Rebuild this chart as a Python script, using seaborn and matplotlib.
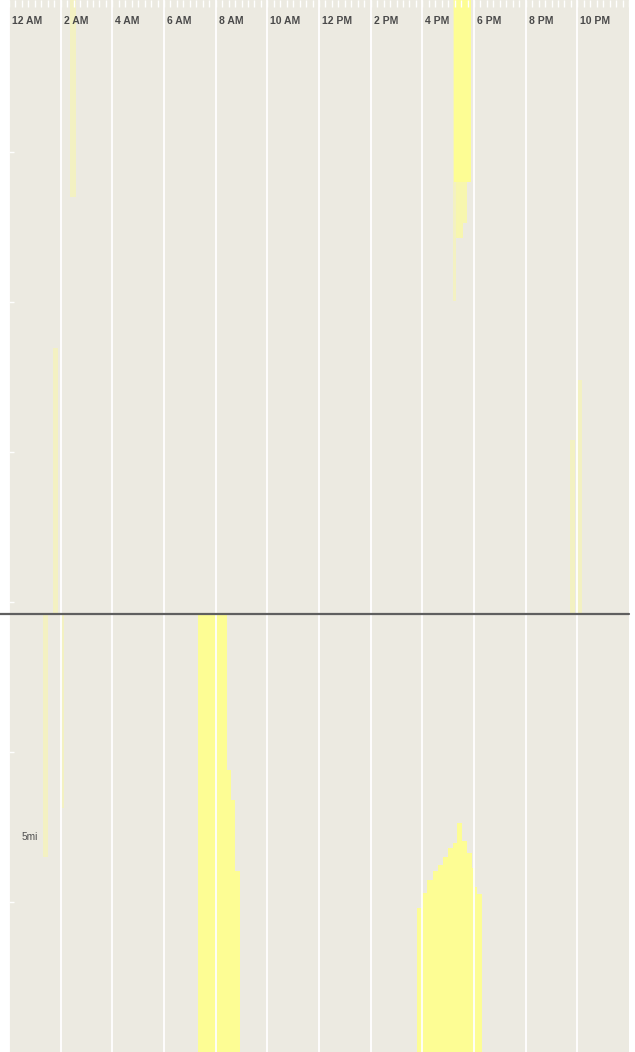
import numpy as np
import pandas as pd
import matplotlib
matplotlib.use("Agg")
import matplotlib.pyplot as plt
import matplotlib.transforms as mtransforms
import seaborn as sns

# hours of the day (x) and distance scale (y, one unit per tick)
hour_labels = ["12 AM", "2 AM", "4 AM", "6 AM", "8 AM", "10 AM",
               "12 PM", "2 PM", "4 PM", "6 PM", "8 PM", "10 PM"]
label_hours = list(range(0, 24, 2))
divider_level = 2.92

# floating trips: start/end hour, low/high distance, number of days overlapping
trip_start = [2.36, 1.70, 17.18, 17.22, 17.29, 17.56, 21.70, 21.97, 1.32, 2.01]
trip_end = [2.59, 1.90, 17.29, 17.87, 17.56, 17.72, 21.90, 22.17, 1.51, 2.13]
trip_low = [5.70, 2.92, 5.01, 5.80, 5.43, 5.53, 2.92, 2.92, 1.30, 1.63]
trip_high = [7.20, 4.69, 7.20, 7.20, 5.80, 5.80, 4.08, 4.48, 2.92, 2.92]
trip_days = [1, 1, 1, 6, 2, 2, 1, 1, 1, 1]

# morning commute block (from ground up)
morning_edges = [7.31, 8.43, 8.59, 8.74, 8.94]
morning_miles = [2.92, 1.88, 1.68, 1.21]

# evening commute bump (from ground up)
evening_edges = [15.78, 15.98, 16.17, 16.40, 16.60, 16.79, 16.98, 17.18,
                 17.33, 17.52, 17.72, 17.91, 18.03, 18.10, 18.30]
evening_miles = [0.96, 1.06, 1.15, 1.21, 1.25, 1.30, 1.36, 1.39,
                 1.53, 1.41, 1.33, 1.23, 1.10, 1.05]

BG = "#ECEAE1"
YELLOW = "#FFFF90"
LAYER_ALPHA = 0.38

sns.set_theme(style="white")
plt.rcParams["font.family"] = ["Liberation Sans", "DejaVu Sans"]

fig = plt.figure(figsize=(6.35, 10.52), dpi=100)
ax = fig.add_axes([9 / 635, 0, 620 / 635, 1])
ax.set_facecolor(BG)

trips = pd.DataFrame({"start": trip_start, "end": trip_end, "low": trip_low,
                      "high": trip_high, "days": trip_days})
for _, t in trips.iterrows():
    ax.bar(t["start"], t["high"] - t["low"], width=t["end"] - t["start"],
           bottom=t["low"], align="edge", color=YELLOW, linewidth=0,
           alpha=1 - (1 - LAYER_ALPHA) ** t["days"], zorder=1)

for edges, miles, days in [(morning_edges, morning_miles, 6),
                           (evening_edges, evening_miles, 6)]:
    centers = (np.array(edges[:-1]) + np.array(edges[1:])) / 2
    sns.histplot(x=centers, weights=miles, bins=edges, ax=ax, color=YELLOW,
                 alpha=1 - (1 - LAYER_ALPHA) ** days, linewidth=0,
                 element="bars", zorder=1)

ax.axhline(divider_level, xmin=-9 / 620, xmax=1, color="#5f5f5f", lw=1.6,
           clip_on=False, zorder=5)

ax.set_xlim(0, 24)
ax.set_ylim(0, 1052 / 150)
ax.set_xticks(label_hours)
ax.set_xticks(np.arange(0, 24.01, 0.25), minor=True)
ax.set_yticks([1, 2, 3, 4, 5, 6])
ax.grid(axis="x", which="major", color="white", lw=1.3)
ax.set_axisbelow(False)
ax.tick_params(axis="x", which="both", bottom=False, top=True, direction="in",
               length=5, width=1, color="white", labelbottom=False, labeltop=False)
ax.tick_params(axis="y", left=True, direction="in", length=3.6, width=1,
               color="white", labelleft=False)
ax.set_xlabel("")
ax.set_ylabel("")
for s in ax.spines.values():
    s.set_visible(False)

trans = mtransforms.offset_copy(ax.get_xaxis_transform(), fig=fig, x=3, y=0, units="dots")
for h, lab in zip(label_hours, hour_labels):
    ax.text(h, 1 - 21.5 / 1052, lab, transform=trans, ha="left", va="center",
            fontsize=7.5, fontweight="bold", color="#4a4a4a", zorder=6)

ax.text(0.5, 1.43, "5mi", ha="left", va="center", fontsize=7.3, color="#505050", zorder=6)

fig.savefig("out.png", dpi=100, facecolor="white")
